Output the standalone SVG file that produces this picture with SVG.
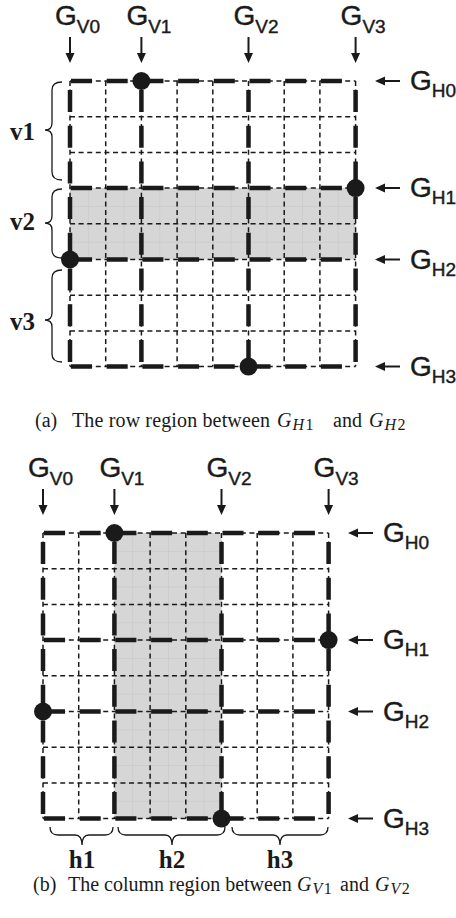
<svg xmlns="http://www.w3.org/2000/svg" xmlns:xlink="http://www.w3.org/1999/xlink" width="456" height="918" viewBox="0 0 456 918">
<style>
.thin{stroke:#1a1a1a;stroke-width:1.5;stroke-dasharray:5 3.6;fill:none}
.tv{stroke:#1a1a1a;stroke-width:4.5;stroke-dasharray:22 13.7;fill:none}
.th{stroke:#1a1a1a;stroke-width:4.5;stroke-dasharray:21 14.7;fill:none}
.dot{fill:#1a1a1a}
.arr{stroke:#1a1a1a;stroke-width:2;fill:none}
.head{fill:#1a1a1a}
.lbl{font-family:"Liberation Sans",Arial,sans-serif;font-size:28px;fill:#1a1a1a;stroke:#1a1a1a;stroke-width:0.4}
.sub{font-size:19px}
.brace{stroke:#1a1a1a;stroke-width:1.3;fill:none}
.blab{font-family:"Liberation Serif","Times New Roman",serif;font-weight:bold;font-size:25px;fill:#1a1a1a;text-anchor:middle}
.cap{font-family:"Liberation Serif","Times New Roman",serif;font-size:20px;fill:#1a1a1a}
.ms{font-size:16px;letter-spacing:1.5px}
.shade{fill:url(#subgrid)}
</style>
<defs>
<pattern id="subgrid" patternUnits="userSpaceOnUse" x="0" y="0" width="17.85" height="17.85">
<rect width="17.85" height="17.85" fill="#d6d6d6"/>
<path d="M0,0H17.85M0,0V17.85" stroke="#c4c4c4" stroke-width="1"/>
</pattern>
<g id="grid">
<g class="thin">
<path d="M0,0V285.6M35.7,0V285.6M71.4,0V285.6M107.1,0V285.6M142.8,0V285.6M178.5,0V285.6M214.2,0V285.6M249.9,0V285.6M285.6,0V285.6"/>
<path d="M0,0H285.6M0,35.7H285.6M0,71.4H285.6M0,107.1H285.6M0,142.8H285.6M0,178.5H285.6M0,214.2H285.6M0,249.9H285.6M0,285.6H285.6"/>
</g>
<path class="tv" d="M0,9V285.6M71.4,9V285.6M178.5,9V285.6M285.6,9V285.6"/>
<path class="th" d="M1,0H285.6M1,107.1H285.6M1,178.5H285.6M1,285.6H285.6"/>
<circle class="dot" cx="71.4" cy="0" r="9"/>
<circle class="dot" cx="285.6" cy="107.1" r="9"/>
<circle class="dot" cx="0" cy="178.5" r="9"/>
<circle class="dot" cx="178.5" cy="285.6" r="9"/>
</g>
<g id="arrows">
<path class="arr" d="M0,-44V-26M71.4,-44V-26M178.5,-44V-26M285.6,-44V-26"/>
<path class="head" d="M-4.5,-28H4.5L0,-18ZM66.9,-28H75.9L71.4,-18ZM174,-28H183L178.5,-18ZM281.1,-28H290.1L285.6,-18Z"/>
<path class="arr" d="M313,0H330M313,107.1H330M313,178.5H330M313,285.6H330"/>
<path class="head" d="M315,-4.5V4.5L305,0ZM315,102.6V111.6L305,107.1ZM315,174V183L305,178.5ZM315,281.1V290.1L305,285.6Z"/>
</g>
<g id="labels">
<text class="lbl" x="-15" y="-56">G<tspan class="sub" dy="8">V0</tspan></text>
<text class="lbl" x="56.4" y="-56">G<tspan class="sub" dy="8">V1</tspan></text>
<text class="lbl" x="163.5" y="-56">G<tspan class="sub" dy="8">V2</tspan></text>
<text class="lbl" x="270.6" y="-56">G<tspan class="sub" dy="8">V3</tspan></text>
<text class="lbl" x="340" y="9">G<tspan class="sub" dy="7">H0</tspan></text>
<text class="lbl" x="340" y="116.1">G<tspan class="sub" dy="7">H1</tspan></text>
<text class="lbl" x="340" y="187.5">G<tspan class="sub" dy="7">H2</tspan></text>
<text class="lbl" x="340" y="294.6">G<tspan class="sub" dy="7">H3</tspan></text>
</g>
</defs>

<g id="panel-a" transform="translate(70,81)">
<rect id="region-a" class="shade" x="0" y="107.1" width="285.6" height="71.4"/>
<use id="grid-a" xlink:href="#grid"/>
<use id="labels-a" xlink:href="#labels"/>
</g>
<g id="connectors-a" transform="translate(70,81)">
<use xlink:href="#arrows"/>
</g>
<g id="braces-a">
<path class="brace" d="M62,82Q52,82 52,90L52,123Q52,130 45,130Q52,130 52,137L52,172Q52,180 62,180"/>
<path class="brace" d="M62,189Q52,189 52,197L52,216Q52,223 45,223Q52,223 52,230L52,250Q52,258 62,258"/>
<path class="brace" d="M62,270Q52,270 52,278L52,313Q52,320 45,320Q52,320 52,327L52,354Q52,362 62,362"/>
<text class="blab" x="22.5" y="140">v1</text>
<text class="blab" x="22.5" y="230">v2</text>
<text class="blab" x="22.5" y="330">v3</text>
</g>
<g id="caption-a" class="cap">
<text x="35" y="427">(a)</text>
<text x="72" y="427" textLength="198" lengthAdjust="spacing">The row region between</text>
<text x="277" y="427"><tspan font-style="italic">G</tspan><tspan class="ms" dx="1" dy="3" font-style="italic">H</tspan><tspan class="ms">1</tspan></text>
<text x="333" y="427">and</text>
<text x="369" y="427"><tspan font-style="italic">G</tspan><tspan class="ms" dx="1" dy="3" font-style="italic">H</tspan><tspan class="ms">2</tspan></text>
</g>

<g id="panel-b" transform="translate(43,533)">
<rect id="region-b" class="shade" x="71.4" y="0" width="107.1" height="285.6"/>
<use id="grid-b" xlink:href="#grid"/>
<use id="labels-b" xlink:href="#labels"/>
</g>
<g id="connectors-b" transform="translate(43,533)">
<use xlink:href="#arrows"/>
</g>
<g id="braces-b">
<path class="brace" d="M50,827Q50,835 58,835L75,835Q82,835 82,845Q82,835 89,835L105,835Q113,835 113,827"/>
<path class="brace" d="M118,827Q118,835 126,835L165,835Q172,835 172,845Q172,835 179,835L217,835Q225,835 225,827"/>
<path class="brace" d="M232,827Q232,835 240,835L273,835Q280,835 280,845Q280,835 287,835L320,835Q328,835 328,827"/>
<text class="blab" x="82" y="868">h1</text>
<text class="blab" x="172" y="868">h2</text>
<text class="blab" x="280" y="868">h3</text>
</g>
<g id="caption-b" class="cap">
<text x="33" y="891">(b)</text>
<text x="68" y="891">The column region between</text>
<text x="297" y="891"><tspan font-style="italic">G</tspan><tspan class="ms" dx="1" dy="3" font-style="italic">V</tspan><tspan class="ms">1</tspan></text>
<text x="340" y="891">and</text>
<text x="375" y="891"><tspan font-style="italic">G</tspan><tspan class="ms" dx="1" dy="3" font-style="italic">V</tspan><tspan class="ms">2</tspan></text>
</g>
</svg>
